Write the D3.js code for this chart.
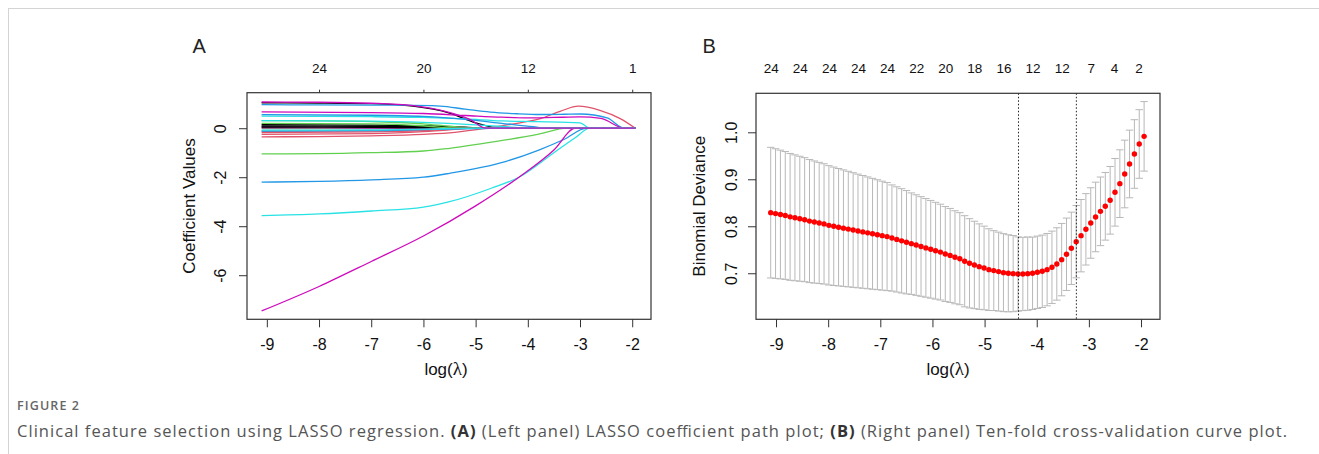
<!DOCTYPE html>
<html>
<head>
<meta charset="utf-8">
<script src="https://cdn.jsdelivr.net/npm/d3@7"></script>
<style>
  body { margin: 0; background: #fff; }
  svg text { font-family: 'Liberation Sans', Arial, sans-serif; fill: #111; }
  .caption text { font-family: 'Open Sans', 'Noto Sans', sans-serif; }
</style>
</head>
<body>
<svg id="chart" width="1319" height="454"></svg>
<script>
// ---- panel A: coefficient paths, points are [log(lambda), coefficient]
var coefPaths = [
  [[-9.10, 1.04], [-8, 1.03], [-7, 1.0], [-6.2, 0.9], [-5.5, 0.62], [-5.0, 0.22], [-4.5, 0], [-1.94, 0]],
  [[-9.10, -0.35], [-8, -0.34], [-7, -0.31], [-6, -0.25], [-5.4, -0.17], [-4.79, 0], [-4.3, 0.17], [-3.76, 0.39], [-3.38, 0.69], [-3.03, 0.90], [-2.62, 0.73], [-2.23, 0.39], [-1.94, 0]],
  [[-9.10, -1.05], [-8, -1.04], [-7, -1.0], [-6, -0.93], [-5.5, -0.82], [-4.43, -0.48], [-3.79, -0.24], [-3.25, 0], [-1.94, 0]],
  [[-9.10, -2.2], [-8, -2.17], [-7, -2.11], [-6, -2.0], [-5.5, -1.84], [-4.43, -1.36], [-3.79, -0.89], [-3.3, -0.45], [-2.87, 0], [-1.94, 0]],
  [[-9.10, -3.57], [-8, -3.5], [-7, -3.38], [-6, -3.22], [-5.5, -3.0], [-4.7, -2.45], [-4.17, -2.0], [-3.5, -1.0], [-3.1, -0.4], [-2.81, 0], [-1.94, 0]],
  [[-9.10, -7.46], [-8, -6.46], [-7, -5.44], [-6, -4.4], [-5, -3.17], [-4.17, -2.0], [-3.5, -0.89], [-3.09, 0], [-1.94, 0]],
  [[-9.10, 0.15], [-7, 0.13], [-6, 0.1], [-5.2, 0.04], [-4.8, 0], [-1.94, 0]],
  [[-9.10, -0.18], [-7, -0.15], [-6, -0.1], [-5.5, -0.05], [-5.0, 0], [-1.94, 0]],
  [[-9.10, 0.31], [-8, 0.3], [-7, 0.27], [-6, 0.18], [-5.5, 0.08], [-5.0, 0], [-1.94, 0]],
  [[-9.10, 0.96], [-8, 0.95], [-7, 0.945], [-6.4, 0.94], [-5.68, 0.9], [-5.2, 0.78], [-4.72, 0.66], [-4.2, 0.59], [-3.76, 0.56], [-3.3, 0.57], [-2.99, 0.58], [-2.48, 0.42], [-2.15, 0], [-1.94, 0]],
  [[-9.10, 0.49], [-7, 0.47], [-6, 0.44], [-5.2, 0.38], [-4.5, 0.3], [-3.8, 0.27], [-3.0, 0.22], [-2.81, 0], [-1.94, 0]],
  [[-9.10, 0.665], [-7, 0.64], [-6, 0.6], [-5.2, 0.52], [-4.5, 0.45], [-4.0, 0.42], [-3.5, 0.44], [-3.0, 0.46], [-2.6, 0.4], [-2.15, 0], [-1.94, 0]],
  [[-9.10, 0.09], [-7, 0.08], [-6, 0.05], [-5.5, 0], [-1.94, 0]],
  [[-9.10, -0.25], [-7, -0.22], [-6, -0.14], [-5.4, -0.05], [-5.1, 0], [-1.94, 0]],
  [[-9.10, -0.02], [-7, -0.02], [-6, 0], [-1.94, 0]],
  [[-9.10, 0.555], [-7, 0.53], [-6, 0.48], [-5.2, 0.36], [-4.5, 0.2], [-3.9, 0.06], [-3.6, 0], [-1.94, 0]],
  [[-9.10, 0.31], [-7, 0.29], [-6, 0.24], [-5, 0.14], [-4.4, 0.06], [-3.9, 0], [-1.94, 0]],
  [[-9.10, 0.02], [-7, 0.01], [-6.5, 0], [-1.94, 0]],
  [[-9.10, 0.05], [-7, 0.04], [-6, 0.02], [-5.5, 0], [-1.94, 0]],
  [[-9.10, -0.13], [-7, -0.11], [-6, -0.06], [-5.5, 0], [-1.94, 0]],
  [[-9.10, 0.2], [-7, 0.18], [-6, 0.1], [-5.4, 0], [-1.94, 0]],
  [[-9.10, -0.12], [-7, -0.1], [-6, -0.06], [-5, -0.02], [-4.5, 0], [-1.94, 0]],
  [[-9.10, -0.08], [-7, -0.07], [-6, -0.04], [-5, 0], [-1.94, 0]],
  [[-9.10, 1.07], [-8, 1.06], [-7, 1.02], [-6.2, 0.92], [-5.6, 0.7], [-5.1, 0.35], [-4.8, 0], [-1.94, 0]]
];
var xTicks = [-9, -8, -7, -6, -5, -4, -3, -2];
var coefTicks = [-6, -4, -2, 0];
var dfTickLambda = [-8, -6, -4, -2];
var dfTickLabels = ['24', '20', '12', '1'];

// ---- panel B: cross-validation curve
var logLambda = [
  -9.102, -9.009, -8.916, -8.823, -8.730, -8.637, -8.544, -8.451, -8.358, -8.265,
  -8.172, -8.079, -7.986, -7.893, -7.800, -7.707, -7.614, -7.521, -7.428, -7.335,
  -7.242, -7.149, -7.056, -6.963, -6.870, -6.777, -6.684, -6.591, -6.498, -6.405,
  -6.312, -6.219, -6.126, -6.033, -5.940, -5.847, -5.754, -5.661, -5.568, -5.475,
  -5.382, -5.289, -5.196, -5.103, -5.010, -4.917, -4.824, -4.731, -4.638, -4.545,
  -4.452, -4.359, -4.266, -4.173, -4.080, -3.987, -3.894, -3.801, -3.708, -3.615,
  -3.522, -3.429, -3.336, -3.243, -3.150, -3.057, -2.964, -2.871, -2.778, -2.685,
  -2.592, -2.499, -2.406, -2.313, -2.220, -2.127, -2.034, -1.941
];
var cvMean = [
  0.829, 0.827, 0.825, 0.823, 0.820, 0.818, 0.816, 0.814, 0.811, 0.809,
  0.807, 0.805, 0.802, 0.800, 0.798, 0.796, 0.794, 0.792, 0.790, 0.788,
  0.786, 0.784, 0.782, 0.780, 0.778, 0.775, 0.772, 0.769, 0.766, 0.763,
  0.760, 0.757, 0.754, 0.751, 0.748, 0.745, 0.741, 0.738, 0.734, 0.731,
  0.7255, 0.7212, 0.7177, 0.7141, 0.7113, 0.7077, 0.7056, 0.7035, 0.7013, 0.6999,
  0.6992, 0.6983, 0.6985, 0.6992, 0.6999, 0.7021, 0.7042, 0.7077, 0.7127, 0.7198,
  0.7290, 0.7404, 0.7531, 0.7673, 0.7800, 0.7935, 0.8070, 0.8198, 0.8318, 0.8425,
  0.8553, 0.8723, 0.8907, 0.9113, 0.9326, 0.9538, 0.9751, 0.9914
];
var cvSE = [
  0.139, 0.138, 0.137, 0.136, 0.135, 0.134, 0.133, 0.132, 0.131, 0.130,
  0.129, 0.128, 0.127, 0.126, 0.125, 0.124, 0.123, 0.122, 0.121, 0.120,
  0.119, 0.118, 0.117, 0.116, 0.115, 0.113, 0.112, 0.111, 0.110, 0.108,
  0.107, 0.106, 0.105, 0.104, 0.103, 0.102, 0.101, 0.100, 0.099, 0.098,
  0.097, 0.095, 0.093, 0.091, 0.089, 0.087, 0.085, 0.084, 0.083, 0.082,
  0.081, 0.079, 0.078, 0.078, 0.077, 0.077, 0.077, 0.077, 0.077, 0.077,
  0.077, 0.077, 0.077, 0.077, 0.077, 0.076, 0.075, 0.074, 0.073, 0.072,
  0.072, 0.072, 0.072, 0.072, 0.072, 0.073, 0.073, 0.074
];
var devTicks = [0.7, 0.8, 0.9, 1.0];
var nzeroLambda = [-9.102, -8.544, -7.986, -7.428, -6.870, -6.312, -5.754, -5.196, -4.638, -4.080, -3.522, -2.964, -2.52, -2.05];
var nzeroLabels = ['24', '24', '24', '24', '24', '22', '20', '18', '16', '12', '12', '7', '4', '2'];
var lambdaMin = -4.35;
var lambda1se = -3.24;

var palette = ['#000000', '#DF536B', '#61D04F', '#2297E6', '#28E2E5', '#CD0BBC'];

var svg = d3.select('#chart');

// outer frame
svg.append('line').attr('x1', 8).attr('x2', 1319).attr('y1', 8.5).attr('y2', 8.5)
  .attr('stroke', '#d4d4d4');
svg.append('line').attr('x1', 8.5).attr('x2', 8.5).attr('y1', 8).attr('y2', 454)
  .attr('stroke', '#d4d4d4');

// R prints a plain hyphen for negatives
var plain = function (d) { return String(d); };

function styleAxis(g) {
  g.select('.domain').remove();
  g.selectAll('line').attr('stroke', '#333').attr('stroke-width', 1);
  g.attr('font-family', null).attr('font-size', null);
}

function panel(box, x, y, opts) {
  var g = svg.append('g');

  var bottom = g.append('g')
    .attr('transform', 'translate(0,' + box.bottom + ')')
    .call(d3.axisBottom(x).tickValues(xTicks).tickSize(8).tickFormat(plain));
  styleAxis(bottom);
  bottom.selectAll('text').attr('y', 30.7).attr('dy', null).style('font-size', '16px');

  var left = g.append('g')
    .attr('transform', 'translate(' + box.left + ',0)')
    .call(d3.axisLeft(y).tickValues(opts.yTicks).tickSize(8).tickFormat(opts.yFormat));
  styleAxis(left);
  left.selectAll('text')
    .attr('x', null).attr('dy', null)
    .attr('text-anchor', 'middle')
    .attr('transform', 'translate(' + opts.yLabelOffset + ',0) rotate(-90)')
    .style('font-size', '16px');

  var top = g.append('g')
    .attr('transform', 'translate(0,' + box.top + ')')
    .call(d3.axisTop(x).tickValues(opts.topAt).tickSize(opts.topTick)
      .tickFormat(function (d, i) { return opts.topLabels[i]; }));
  styleAxis(top);
  top.selectAll('text').attr('y', opts.topLabelOffset).attr('dy', null).style('font-size', '13.5px');

  // axis titles
  g.append('text')
    .attr('transform', 'translate(' + opts.yTitleX + ',' + ((box.top + box.bottom) / 2) + ') rotate(-90)')
    .attr('text-anchor', 'middle')
    .style('font-size', '17px')
    .text(opts.yTitle);

  var xt = g.append('text')
    .attr('x', opts.xTitleX).attr('y', 374.5)
    .attr('text-anchor', 'middle')
    .style('font-size', '17px');
  xt.append('tspan').text('log(');
  xt.append('tspan').style('font-family', "'Liberation Serif', 'DejaVu Serif', serif").style('font-size', '19px').text('λ');
  xt.append('tspan').text(')');

  g.append('text')
    .attr('x', opts.letterX).attr('y', 52.5)
    .style('font-size', '20px')
    .style('fill', '#222')
    .text(opts.letter);

  return g;
}

// ---------- Panel A
var boxA = { left: 247, right: 651, top: 92.7, bottom: 319.3 };
var xA = d3.scaleLinear().domain([-9.38, -1.64]).range([boxA.left, boxA.right]);
var yA = d3.scaleLinear().domain([-7.80, 1.45]).range([boxA.bottom, boxA.top]);

var gA = panel(boxA, xA, yA, {
  yTicks: coefTicks, yFormat: plain, yLabelOffset: -21.5,
  topAt: dfTickLambda, topLabels: dfTickLabels, topTick: 3, topLabelOffset: -19.4,
  yTitle: 'Coefficient Values', yTitleX: 195, xTitleX: 446,
  letter: 'A', letterX: 192.5
});

var pathLine = d3.line()
  .x(function (d) { return xA(d[0]); })
  .y(function (d) { return yA(d[1]); })
  .curve(d3.curveMonotoneX);

gA.append('g').selectAll('path')
  .data(coefPaths)
  .enter().append('path')
  .attr('d', pathLine)
  .attr('fill', 'none')
  .attr('stroke', function (d, i) { return palette[i % palette.length]; })
  .attr('stroke-width', 1.3);

gA.append('rect')
  .attr('x', boxA.left).attr('y', boxA.top)
  .attr('width', boxA.right - boxA.left).attr('height', boxA.bottom - boxA.top)
  .attr('fill', 'none').attr('stroke', '#333').attr('stroke-width', 1.2);

// ---------- Panel B
var boxB = { left: 756, right: 1160, top: 93.3, bottom: 319.3 };
var xB = d3.scaleLinear().domain([-9.384, -1.636]).range([boxB.left, boxB.right]);
var yB = d3.scaleLinear().domain([0.602, 1.083]).range([boxB.bottom, boxB.top]);

var gB = panel(boxB, xB, yB, {
  yTicks: devTicks, yFormat: d3.format('.1f'), yLabelOffset: -19.3,
  topAt: nzeroLambda, topLabels: nzeroLabels, topTick: 0, topLabelOffset: -20,
  yTitle: 'Binomial Deviance', yTitleX: 705, xTitleX: 948,
  letter: 'B', letterX: 702.5
});

var cv = logLambda.map(function (l, i) {
  return { lam: l, mean: cvMean[i], up: cvMean[i] + cvSE[i], lo: cvMean[i] - cvSE[i] };
});
var barW = 0.0716;

var bars = gB.append('g').attr('stroke', '#b8b8b8').attr('stroke-width', 1);
bars.selectAll('line.v').data(cv).enter().append('line')
  .attr('x1', function (d) { return xB(d.lam); })
  .attr('x2', function (d) { return xB(d.lam); })
  .attr('y1', function (d) { return yB(d.up); })
  .attr('y2', function (d) { return yB(d.lo); });
bars.selectAll('line.u').data(cv).enter().append('line')
  .attr('x1', function (d) { return xB(d.lam - barW); })
  .attr('x2', function (d) { return xB(d.lam + barW); })
  .attr('y1', function (d) { return yB(d.up); })
  .attr('y2', function (d) { return yB(d.up); });
bars.selectAll('line.l').data(cv).enter().append('line')
  .attr('x1', function (d) { return xB(d.lam - barW); })
  .attr('x2', function (d) { return xB(d.lam + barW); })
  .attr('y1', function (d) { return yB(d.lo); })
  .attr('y2', function (d) { return yB(d.lo); });

gB.append('g').selectAll('circle').data(cv).enter().append('circle')
  .attr('cx', function (d) { return xB(d.lam); })
  .attr('cy', function (d) { return yB(d.mean); })
  .attr('r', 2.7)
  .attr('fill', '#ff0000');

gB.selectAll('line.sel').data([lambdaMin, lambda1se]).enter().append('line')
  .attr('x1', function (d) { return xB(d); })
  .attr('x2', function (d) { return xB(d); })
  .attr('y1', boxB.top).attr('y2', boxB.bottom)
  .attr('stroke', '#222').attr('stroke-width', 1)
  .attr('stroke-dasharray', '1.5,2');

gB.append('rect')
  .attr('x', boxB.left).attr('y', boxB.top)
  .attr('width', boxB.right - boxB.left).attr('height', boxB.bottom - boxB.top)
  .attr('fill', 'none').attr('stroke', '#333').attr('stroke-width', 1.2);

// ---------- caption
var cap = svg.append('g').attr('class', 'caption');
cap.append('text')
  .attr('x', 17).attr('y', 409.5)
  .attr('textLength', 62).attr('lengthAdjust', 'spacing')
  .style('font-size', '12.5px').style('font-weight', 600).style('fill', '#666')
  .text('FIGURE 2');
var line = cap.append('text')
  .attr('x', 17).attr('y', 437)
  .attr('textLength', 1270).attr('lengthAdjust', 'spacing')
  .style('font-size', '16.5px').style('fill', '#555');
line.append('tspan').text('Clinical feature selection using LASSO regression. ');
line.append('tspan').style('font-weight', 700).style('fill', '#333').text('(A)');
line.append('tspan').text(' (Left panel) LASSO coefficient path plot; ');
line.append('tspan').style('font-weight', 700).style('fill', '#333').text('(B)');
line.append('tspan').text(' (Right panel) Ten-fold cross-validation curve plot.');
</script>
</body>
</html>
